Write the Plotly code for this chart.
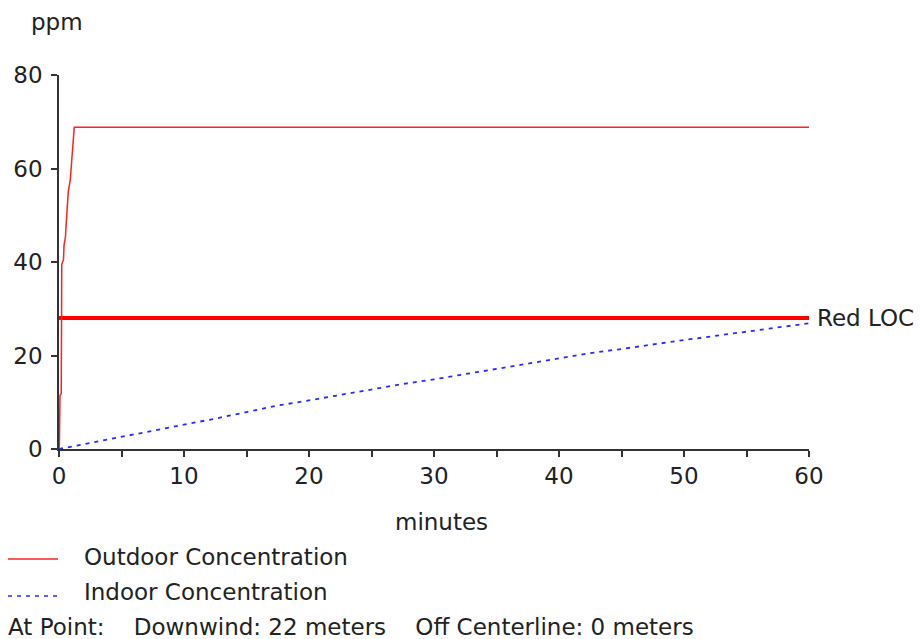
import plotly.graph_objects as go

# Data
out_t = [0, 0.03, 0.08, 0.18, 0.22, 0.36, 0.4, 0.52, 0.56, 0.7, 0.74, 0.9, 0.94, 1.04, 1.08, 1.22, 60]
out_v = [0, 1.0, 11.5, 11.8, 39.5, 40.5, 43.5, 45.5, 47.5, 53.0, 55.0, 57.5, 59.0, 61.5, 62.5, 68.8, 68.8]

in_t = [0, 2.5, 5, 7.5, 10, 12.5, 15, 17.5, 20, 22.5, 25, 27.5, 30, 32.5, 35, 37.5, 40, 42.5, 45, 47.5, 50, 52.5, 55, 57.5, 60]
in_v = [0, 1.3, 2.6, 3.8, 5.1, 6.5, 7.9, 9.3, 10.4, 11.6, 12.8, 13.9, 14.9, 16.0, 17.1, 18.2, 19.4, 20.5, 21.4, 22.4, 23.3, 24.2, 25.1, 26.0, 26.9]

loc_t = [0, 60]
loc_v = [28, 28]
loc_label = "Red LOC"

x_ticks = [0, 10, 20, 30, 40, 50, 60]
y_ticks = [0, 20, 40, 60, 80]

FONT = "DejaVu Sans"
TXT = "#222222"
AX = "#333333"
FS = 23
TFS = 23

fig = go.Figure()
fig.add_trace(go.Scatter(x=loc_t, y=loc_v, mode="lines",
                         line=dict(color="#ff0000", width=4), showlegend=False))
fig.add_trace(go.Scatter(x=out_t, y=out_v, mode="lines",
                         line=dict(color="#ff2020", width=1.5), name="Outdoor Concentration", showlegend=False))
fig.add_trace(go.Scatter(x=in_t, y=in_v, mode="lines",
                         line=dict(color="#2a2aff", width=1.8, dash="4px,5px"), name="Indoor Concentration", showlegend=False))

fig.update_layout(
    width=921, height=639,
    margin=dict(l=59, r=112, t=75, b=190),
    plot_bgcolor="white", paper_bgcolor="white",
    font=dict(family=FONT, size=FS, color=TXT),
    showlegend=False,
    xaxis=dict(range=[0, 60], tickvals=x_ticks, showgrid=False, zeroline=False,
               showline=True, linecolor=AX, linewidth=1.5,
               ticks="outside", ticklen=6, tickcolor=AX, tickwidth=1.5,
               minor=dict(dtick=5, tick0=0, ticks="outside", ticklen=6, tickcolor=AX, tickwidth=1.5),
               tickfont=dict(size=TFS, color=TXT)),
    yaxis=dict(range=[0, 80], tickvals=y_ticks, showgrid=False, zeroline=False,
               showline=True, linecolor=AX, linewidth=1.5,
               ticks="outside", ticklen=6, tickcolor=AX, tickwidth=1.5,
               ticklabelstandoff=4,
               tickfont=dict(size=TFS, color=TXT)),
)

def px(xp):
    return (xp - 59) / 750.0
def py(yp):
    return (449 - yp) / 374.0

annotations = []
annotations.append(dict(text="ppm", x=px(57), y=py(22), xref="paper", yref="paper",
                        showarrow=False, xanchor="center", yanchor="middle", font=dict(size=FS)))
annotations.append(dict(text="minutes", x=px(441), y=py(522), xref="paper", yref="paper",
                        showarrow=False, xanchor="center", yanchor="middle", font=dict(size=FS)))
annotations.append(dict(text=loc_label, x=60, y=loc_v[-1], xref="x", yref="y", xshift=6,
                        showarrow=False, xanchor="left", yanchor="middle", font=dict(size=FS)))
annotations.append(dict(text="Outdoor Concentration", x=px(82), y=py(557), xref="paper", yref="paper",
                        showarrow=False, xanchor="left", yanchor="middle", font=dict(size=FS)))
annotations.append(dict(text="Indoor Concentration", x=px(82), y=py(592), xref="paper", yref="paper",
                        showarrow=False, xanchor="left", yanchor="middle", font=dict(size=FS)))
annotations.append(dict(text="At Point:    Downwind: 22 meters    Off Centerline: 0 meters",
                        x=px(6), y=py(627), xref="paper", yref="paper",
                        showarrow=False, xanchor="left", yanchor="middle", font=dict(size=FS)))
fig.update_layout(annotations=annotations)

fig.add_shape(type="line", xref="paper", yref="paper", x0=px(8), x1=px(58), y0=py(559), y1=py(559),
              line=dict(color="#ff2020", width=1.5))
fig.add_shape(type="line", xref="paper", yref="paper", x0=px(8), x1=px(58), y0=py(596), y1=py(596),
              line=dict(color="#2a2aff", width=1.5, dash="4px,5px"))

fig.write_html("out.html")
